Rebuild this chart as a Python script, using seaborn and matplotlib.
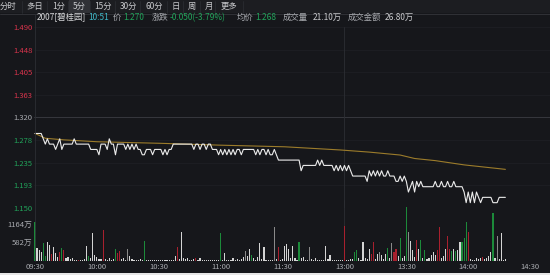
import matplotlib
matplotlib.use("Agg")
import matplotlib.pyplot as plt
import seaborn as sns
import numpy as np
import pandas as pd
from matplotlib.patches import Rectangle

# ---------------- data ----------------
# price per minute slot (in units of 0.01 HKD)
price_cents = [
    129, 129, 129, 129,
    128, 127, 128, 127, 127, 127, 126, 127, 128, 126, 127,
    127, 127, 127, 127,
    128,
    127, 127, 127, 127, 127,
    127, 127, 126, 126, 126, 126, 125,
    127, 127, 127, 126, 128, 127, 127,
    125, 127, 127, 127, 127,
    126, 127, 126, 127, 126, 127, 126, 126, 125, 125,
    126, 126, 126, 125, 126, 126, 126, 126,
    125, 126, 125, 126, 126,
    127, 127, 127, 127, 127, 127, 127, 127, 127, 127,
    126, 127, 127, 126, 127, 127, 126, 127, 127, 126, 126, 126,
    125, 126, 125, 126, 125, 126, 125, 126, 125, 126, 126, 125,
    126, 126, 126, 126, 126, 126,
    125, 126, 125, 126, 126, 125, 126, 125, 125, 126,
    125, 124,
    124, 124, 124, 124, 124, 124, 124, 124, 124, 124,
    122,
    123, 123, 123, 123, 123, 123, 123,
    124, 123, 124,
    123, 123, 123, 123, 123,
    122, 123, 122, 123, 122, 123, 122, 123, 122,
    121, 121, 121, 121, 121, 121, 121, 120,
    122, 121, 122, 121, 122, 121, 122, 121, 121, 122,
    121, 121, 121,
    120, 120, 121, 120,
    121, 120, 118, 119, 120, 118, 120, 119, 120, 119,
    119, 119, 119, 119, 119,
    120, 119, 119, 120, 119, 119, 120, 119, 119, 120,
    119, 119, 119, 119,
    118,
    116, 118, 116, 118, 116, 118, 117, 116,
    117, 117, 117, 117, 117,
    116, 116, 116,
    117, 117, 117, 117,
]
prices = [c / 100 for c in price_cents]

# average price line (slot index, price)
avg_idx = [0, 5, 14, 30, 61, 90, 121, 148, 162, 177, 184, 194, 208, 228]
avg_price = [1.290, 1.281, 1.278, 1.2745, 1.2715, 1.268, 1.265, 1.259,
             1.255, 1.2495, 1.243, 1.239, 1.231, 1.2226]

# volume per minute slot (万) and direction: 1 up, -1 down, 0 flat, 2 flat grey
volume = [
    1270, 410, 355, 280, 570, 150, 610, 520, 230, 460,
    250, 130, 300, 420, 350, 100, 120, 60, 90, 30,
    40, 30, 20, 30, 70, 490, 150, 110, 893, 200,
    120, 60, 70, 1000, 60, 30, 100, 40, 50, 390,
    250, 310, 50, 90, 30, 380, 160, 60, 20, 20,
    30, 50, 30, 640, 30, 20, 40, 30, 20, 30,
    40, 20, 30, 20, 40, 30, 20, 30, 150, 450,
    80, 950, 100, 60, 110, 20, 40, 60, 90, 20,
    110, 30, 30, 20, 40, 20, 30, 20, 40, 30,
    915, 30, 270, 40, 20, 30, 110, 20, 50, 20,
    60, 130, 320, 160, 380, 200, 100, 30, 130, 570,
    80, 460, 30, 20, 40, 30, 1088, 60, 450, 30,
    60, 470, 540, 380, 90, 470, 100, 40, 600, 110,
    130, 30, 40, 460, 50, 40, 90, 20, 30, 30,
    20, 480, 60, 200, 30, 20, 30, 20, 30, 20,
    1130, 40, 30, 60, 50, 300, 340, 100, 40, 620,
    100, 70, 380, 210, 620, 80, 230, 300, 180, 70,
    220, 420, 110, 580, 300, 380, 150, 730, 100, 160,
    1734, 947, 640, 340, 140, 680, 400, 680, 100, 340,
    80, 110, 190, 280, 200, 340, 1088, 100, 160, 380,
    800, 380, 320, 400, 330, 370, 620, 600, 730, 1270,
    950, 60, 40, 30, 90, 80, 110, 120, 50, 100,
    160, 280, 1560, 100, 820, 80, 890, 40, 60,
]
vol_dir = [
    -1, 0, 0, 0, -1, -1, 0, 0, 1, 0,
    0, 0, 1, -1, 1, 0, 0, 0, 0, 0,
    0, 1, 0, 0, 0, 0, -1, 0, 0, 0,
    0, 0, 0, 1, 0, 0, 0, 0, 0, -1,
    1, 1, 0, 0, 0, 2, 0, 0, 0, 0,
    0, 0, 0, -1, 0, 0, 0, 0, 0, 0,
    0, 0, 0, 0, 0, 0, 0, 0, 0, 1,
    0, 0, 0, 0, 0, 0, 0, 0, 1, 0,
    0, 0, 0, 0, 0, 0, 0, 0, 0, 0,
    -1, 0, 0, 0, 0, 0, 0, 0, 0, 0,
    0, 0, 2, 0, 0, -1, 0, 0, 0, 0,
    0, 0, 0, 0, 0, 0, 2, 0, 1, 0,
    0, 0, 0, 0, 0, 0, 0, 0, -1, 0,
    0, 0, 0, 2, 0, 0, 0, 0, 0, 0,
    0, 0, 0, 0, 0, 0, 0, 0, 0, 0,
    1, 0, 0, 0, 0, -1, -1, 0, 0, 0,
    0, 0, 0, 1, 1, 0, 0, 2, 0, 0,
    0, -1, 0, 2, 1, 1, 0, -1, 0, 0,
    -1, 2, 0, 0, 0, 1, 0, -1, 0, -1,
    0, 0, 0, 0, 0, 1, 1, 0, 0, 0,
    1, 1, -1, 0, -1, 0, 0, -1, -1, -1,
    1, 0, 0, 0, 0, 0, 0, 1, 0, 0,
    0, 0, -1, 0, 2, 0, 0, 0, 0,
]

price_ticks = [1.150, 1.1925, 1.235, 1.2775, 1.320, 1.3625, 1.405, 1.4475, 1.490]
price_tick_labels = ["1.150", "1.193", "1.235", "1.278", "1.320", "1.363", "1.405", "1.448", "1.490"]
prev_close = 1.320
time_ticks = [0, 30, 60, 90, 120, 150, 180, 210, 240]
time_labels = ["09:30", "10:00", "10:30", "11:00", "11:30", "13:00", "13:30", "14:00", "14:30"]
vol_ticks = [582, 1164]
vol_tick_labels = ["582万", "1164万"]

toolbar_items = ["分时", "多日", "1分", "5分", "15分", "30分", "60分", "日", "周", "月", "更多"]
toolbar_x = [8.5, 34.5, 58.5, 79, 103.5, 128.5, 154, 175.5, 191.5, 208.5, 229]
toolbar_sep = [22, 47, 68, 90, 115, 140, 167, 183, 200, 215, 243]

# ---------------- style ----------------
sns.set_theme(style="dark")
plt.rcParams["font.family"] = ["Noto Sans CJK SC", "DejaVu Sans"]
plt.rcParams["axes.unicode_minus"] = False

BG = "#16171b"
RED = "#d8344c"
GREEN = "#21a35a"
GREY_TXT = "#a9abb0"
UP_BAR = "#a8202e"
DN_BAR = "#1c8a3a"
FLAT_BAR = "#d4d4d4"
GREY_BAR = "#8a8a8a"

W, H = 550, 275
fig = plt.figure(figsize=(5.5, 2.75), dpi=100, facecolor=BG)


def fx(px):
    return px / W


def fy(py):
    return 1 - py / H


PPM = 2.063  # pixels per minute slot
X0 = 35
left_px, right_px = 34, 550
xlim = ((left_px - X0) / PPM, (right_px - X0) / PPM)

# toolbar
fig.patches.append(Rectangle((0, fy(13)), 1, 13 / H, transform=fig.transFigure,
                             facecolor="#1c1d21", edgecolor="none", zorder=0))
fig.patches.append(Rectangle((fx(69), fy(13)), fx(21), 13 / H, transform=fig.transFigure,
                             facecolor="#303136", edgecolor="none", zorder=1))
fig.lines.append(plt.Line2D([0, 1], [fy(13.5), fy(13.5)], transform=fig.transFigure,
                            color="#34363b", lw=0.6))
for sx in toolbar_sep:
    fig.lines.append(plt.Line2D([fx(sx), fx(sx)], [fy(1), fy(13)], transform=fig.transFigure,
                                color="#2d2f34", lw=0.5))
for t, x in zip(toolbar_items, toolbar_x):
    fig.text(fx(x), fy(6.5), t, color="#c9cacd", fontsize=6, ha="center", va="center")

# info line
info = [
    (37, "2007[碧桂园]", "#d7d8da"),
    (88, "10:51", "#3fb8c8"),
    (113, "价", GREY_TXT),
    (123, "1.270", GREEN),
    (152, "涨跌", GREY_TXT),
    (170, "-0.050(-3.79%)", GREEN),
    (237, "均价", GREY_TXT),
    (255, "1.268", GREEN),
    (283, "成交量", GREY_TXT),
    (313, "21.10万", "#c9cacd"),
    (348, "成交金额", GREY_TXT),
    (385, "26.80万", "#c9cacd"),
]
for x, t, c in info:
    fig.text(fx(x), fy(17.5), t, color=c, fontsize=6, ha="left", va="center")

# frame line (left border)
fig.lines.append(plt.Line2D([fx(35), fx(35)], [fy(14), fy(261)], transform=fig.transFigure,
                            color="#2c2e33", lw=0.6))

# ---------------- volume axes ----------------
vax = fig.add_axes([fx(left_px), fy(261), fx(right_px) - fx(left_px), 61 / H])
vax.set_facecolor("none")
vcolors = {1: UP_BAR, -1: DN_BAR, 0: FLAT_BAR, 2: GREY_BAR}
idx = np.arange(len(volume))
vax.bar(idx, volume, width=0.55, color=[vcolors[d] for d in vol_dir], linewidth=0)
vax.set_xlim(*xlim)
vax.set_ylim(0, 61 * 32.3)
vax.set_yticks(vol_ticks)
vax.set_yticklabels(vol_tick_labels)
vax.set_xticks(time_ticks)
vax.set_xticklabels(time_labels)
vax.tick_params(axis="both", length=0, labelsize=5.5, colors=GREY_TXT)
vax.tick_params(axis="y", pad=1)
vax.tick_params(axis="x", pad=1.5)
vax.grid(False)
for s in vax.spines.values():
    s.set_visible(False)
vax.axvline(150, color="#2c2e33", lw=0.6, zorder=0)

# ---------------- price axes ----------------
ax = fig.add_axes([fx(left_px), fy(208), fx(right_px) - fx(left_px), (208 - 27) / H])
ax.set_facecolor("none")
df = pd.DataFrame({"slot": np.arange(len(prices)), "price": prices})
dfa = pd.DataFrame({"slot": avg_idx, "price": avg_price})
for yv in price_ticks:
    ax.axhline(yv, color="#1f2126", lw=0.5, zorder=0)
ax.axhline(prev_close, color="#3a3c42", lw=0.6, zorder=0)
ax.axvline(150, color="#2c2e33", lw=0.6, zorder=0)
sns.lineplot(data=dfa, x="slot", y="price", ax=ax, color="#9c7c2b", lw=0.8)
sns.lineplot(data=df, x="slot", y="price", ax=ax, color="#ebebeb", lw=0.8)
ax.set_xlim(*xlim)
ax.set_ylim(1.15, 1.49)
ax.set_yticks(price_ticks)
ax.set_yticklabels(price_tick_labels)
ax.set_xticks([])
ax.set_xlabel("")
ax.set_ylabel("")
ax.tick_params(axis="y", length=0, labelsize=5.5, pad=1)
for lab, v in zip(ax.get_yticklabels(), price_ticks):
    if v > prev_close + 1e-9:
        lab.set_color(RED)
    elif v < prev_close - 1e-9:
        lab.set_color(GREEN)
    else:
        lab.set_color(GREY_TXT)
ax.grid(False)
for s in ax.spines.values():
    s.set_visible(False)

# light strip at the very bottom of the screenshot
fig.patches.append(Rectangle((0, 0), 1, 2 / H, transform=fig.transFigure,
                             facecolor="#e6e6e6", edgecolor="none"))

fig.savefig("out.png", dpi=100, facecolor=BG)
